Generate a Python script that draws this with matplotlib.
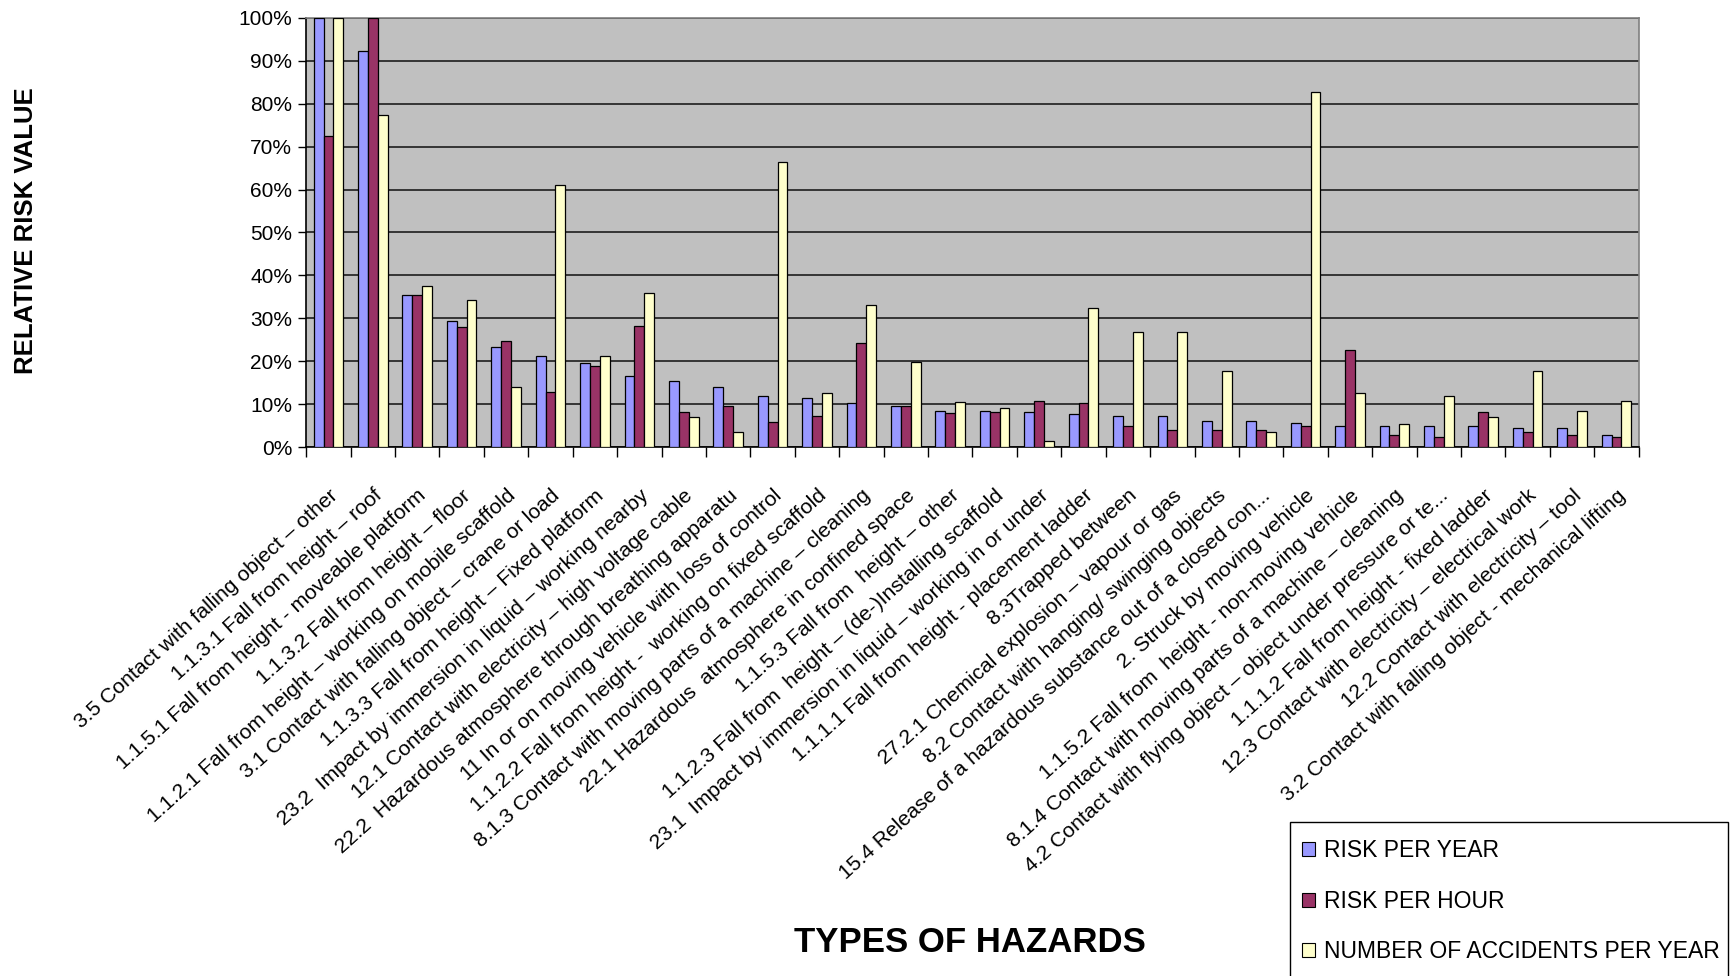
import numpy as np
import matplotlib
matplotlib.use("Agg")
import matplotlib.pyplot as plt
from matplotlib.ticker import FuncFormatter, FixedLocator
from matplotlib.patches import Patch, Rectangle

plt.rcParams['font.family'] = ['Liberation Sans', 'DejaVu Sans']

# --- hazard categories (x axis) ---
hazards = [
    "3.5 Contact with falling object – other",
    "1.1.3.1 Fall from height – roof",
    "1.1.5.1 Fall from height - moveable platform",
    "1.1.3.2 Fall from height – floor",
    "1.1.2.1 Fall from height – working on mobile scaffold",
    "3.1 Contact with falling object – crane or load",
    "1.1.3.3 Fall from height – Fixed platform",
    "23.2  Impact by immersion in liquid – working nearby",
    "12.1 Contact with electricity – high voltage cable",
    "22.2  Hazardous atmosphere through breathing apparatu",
    "11 In or on moving vehicle with loss of control",
    "1.1.2.2 Fall from height -  working on fixed scaffold",
    "8.1.3 Contact with moving parts of a machine – cleaning",
    "22.1 Hazardous  atmosphere in confined space",
    "1.1.5.3 Fall from  height – other",
    "1.1.2.3 Fall from  height – (de-)Installing scaffold",
    "23.1  Impact by immersion in liquid – working in or under",
    "1.1.1.1 Fall from height - placement ladder",
    "8.3Trapped between",
    "27.2.1 Chemical explosion – vapour or gas",
    "8.2 Contact with hanging/ swinging objects",
    "15.4 Release of a hazardous substance out of a closed con...",
    "2. Struck by moving vehicle",
    "1.1.5.2 Fall from  height - non-moving vehicle",
    "8.1.4 Contact with moving parts of a machine – cleaning",
    "4.2 Contact with flying object – object under pressure or te...",
    "1.1.1.2 Fall from height - fixed ladder",
    "12.3 Contact with electricity – electrical work",
    "12.2 Contact with electricity – tool",
    "3.2 Contact with falling object - mechanical lifting",
]

# --- relative values in percent ---
risk_per_year = [100, 92.4, 35.4, 29.3, 23.4, 21.3, 19.6, 16.6, 15.4, 13.9,
                 11.8, 11.4, 10.3, 9.6, 8.4, 8.4, 8.1, 7.8, 7.3, 7.2,
                 6.1, 6.0, 5.5, 5.0, 5.0, 4.8, 4.8, 4.5, 4.5, 2.7]
risk_per_hour = [72.4, 100, 35.4, 27.9, 24.6, 12.9, 18.9, 28.2, 8.2, 9.6,
                 5.8, 7.2, 24.3, 9.6, 7.9, 8.1, 10.8, 10.3, 5.0, 4.0,
                 3.9, 3.9, 4.9, 22.5, 2.8, 2.4, 8.1, 3.6, 2.8, 2.3]
accidents_per_year = [100, 77.4, 37.5, 34.2, 14.1, 61.0, 21.3, 35.9, 7.0, 3.5,
                      66.4, 12.6, 33.0, 19.7, 10.5, 9.0, 1.4, 32.3, 26.7, 26.7,
                      17.7, 3.4, 82.8, 12.6, 5.3, 12.0, 7.0, 17.7, 8.4, 10.8]

series = [
    ("RISK PER YEAR", risk_per_year, "#9999FF"),
    ("RISK PER HOUR", risk_per_hour, "#993366"),
    ("NUMBER OF ACCIDENTS PER YEAR", accidents_per_year, "#FFFFCC"),
]

fig = plt.figure(figsize=(17.35, 9.76), dpi=100)
ax = fig.add_axes([0.1765, 0.542, 0.768, 0.4396])
ax.set_facecolor("#C0C0C0")

x = np.arange(len(hazards))
w = 0.222
for k, (name, vals, col) in enumerate(series):
    ax.bar(x + (k - 1) * w, vals, width=w, color=col, edgecolor="black",
           linewidth=0.9, label=name, zorder=3)

ax.set_xlim(-0.5, len(hazards) - 0.5)
ax.set_ylim(0, 100)
ax.set_yticks(np.arange(0, 101, 10))
ax.yaxis.set_major_formatter(FuncFormatter(lambda v, p: f"{v:.0f}%"))
ax.yaxis.grid(True, color="#2a2a2a", linewidth=1.3, zorder=1)
ax.set_axisbelow(True)
ax.tick_params(axis="y", direction="out", length=6, width=1, labelsize=15, pad=4)

# category labels at centers, tick marks at category boundaries
ax.set_xticks(x)
ax.set_xticklabels(hazards, rotation=42, ha="right", va="top",
                   rotation_mode="anchor", fontsize=15.2)
ax.tick_params(axis="x", which="major", length=0, pad=28)
ax.xaxis.set_minor_locator(FixedLocator(np.arange(-0.5, len(hazards), 1.0)))
ax.tick_params(axis="x", which="minor", direction="out", length=7, width=1)

for side in ("top", "right"):
    ax.spines[side].set_color("#808080")
    ax.spines[side].set_linewidth(1.2)
for side in ("left", "bottom"):
    ax.spines[side].set_color("black")
    ax.spines[side].set_linewidth(1.2)

fig.text(0.015, 0.764, "RELATIVE RISK VALUE", rotation=90, ha="center",
         va="center", fontsize=18.5, fontweight="bold")
fig.text(0.559, 0.034, "TYPES OF HAZARDS", ha="center", va="center",
         fontsize=25, fontweight="bold")

# legend box runs past the bottom edge of the figure
fig.patches.append(Rectangle((0.7435, -0.05), 0.2525, 0.2078,
                             transform=fig.transFigure, facecolor="white",
                             edgecolor="black", linewidth=1.0, zorder=0))
handles = [Patch(facecolor=c, edgecolor="black", linewidth=0.8) for _, _, c in series]
leg = fig.legend(handles, [s[0] for s in series], loc="upper left",
                 bbox_to_anchor=(0.7505, 0.1400), frameon=False,
                 fontsize=16.5, handlelength=0.55, handleheight=0.55,
                 handletextpad=0.4, labelspacing=1.2, borderpad=0,
                 borderaxespad=0)

fig.savefig("out.png", dpi=100)
